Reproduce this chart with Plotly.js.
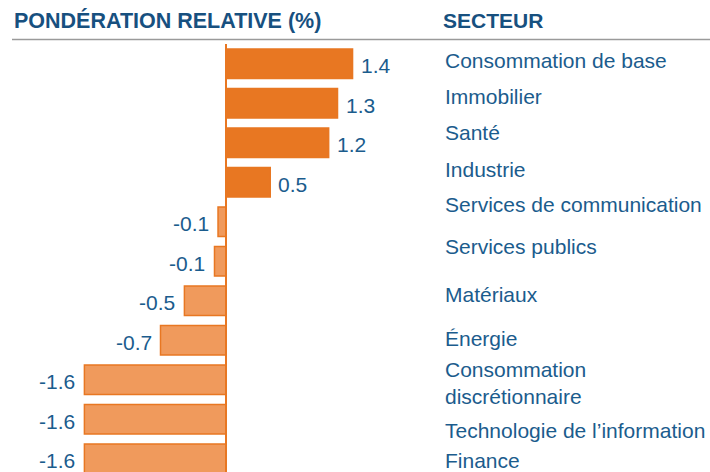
<!DOCTYPE html>
<html>
<head>
<meta charset="utf-8">
<script src="https://cdn.plot.ly/plotly-3.0.1.min.js"></script>
<style>
  html, body { margin: 0; padding: 0; background: #ffffff; }
  #chart { width: 710px; height: 472px; }
</style>
</head>
<body>
<div id="chart"></div>
<script>
// ---- Data ----
const sectors = [
  "Consommation de base",
  "Immobilier",
  "Santé",
  "Industrie",
  "Services de communication",
  "Services publics",
  "Matériaux",
  "Énergie",
  "Consommation<br>discrétionnaire",
  "Technologie de l’information",
  "Finance"
];
const relativeWeight = [1.43, 1.26, 1.16, 0.50, -0.09, -0.13, -0.47, -0.74, -1.60, -1.60, -1.60];
const headerLeft = "PONDÉRATION RELATIVE (%)";
const headerRight = "SECTEUR";

// ---- Styles ----
const ORANGE = "#E87722";
const ORANGE_LIGHT = "#F09A5C";
const BLUE = "#1B5C8D";
const BLUE_DARK = "#17507F";
const FONT = "Liberation Sans, Arial, sans-serif";

const W = 710, H = 472, TOP = 44;
const plotH = H - TOP;

// vertical nudges of the sector labels (px, positive = up), layout only
const labelNudge = [3.5, 7, 10.5, 13, 17.5, 15, 6, 2, -3, -11.5, -1.5];

const trace = {
  type: "bar",
  orientation: "h",
  x: relativeWeight,
  y: sectors,
  marker: {
    color: relativeWeight.map(v => v >= 0 ? ORANGE : ORANGE_LIGHT),
    line: { color: ORANGE, width: 1.5 }
  },
  hoverinfo: "skip"
};

const annotations = [];
// value labels
relativeWeight.forEach((v, i) => {
  annotations.push({
    x: v, y: sectors[i], xref: "x", yref: "y",
    text: v.toFixed(1),
    showarrow: false,
    xanchor: v >= 0 ? "left" : "right",
    yanchor: "middle",
    xshift: v >= 0 ? 6 : -7,
    yshift: -2,
    font: { family: FONT, size: 21, color: BLUE }
  });
});
// sector labels
sectors.forEach((s, i) => {
  annotations.push({
    x: 443 / W, y: s, xref: "paper", yref: "y",
    text: s,
    align: "left",
    showarrow: false,
    xanchor: "left",
    yanchor: "middle",
    yshift: labelNudge[i],
    font: { family: FONT, size: 21, color: BLUE }
  });
});
// headers
annotations.push({
  x: 12 / W, y: 1 + (TOP - 21) / plotH, xref: "paper", yref: "paper",
  text: "<b>" + headerLeft + "</b>", showarrow: false,
  xanchor: "left", yanchor: "middle",
  font: { family: FONT, size: 21.5, color: BLUE_DARK }
});
annotations.push({
  x: 441 / W, y: 1 + (TOP - 21) / plotH, xref: "paper", yref: "paper",
  text: "<b>" + headerRight + "</b>", showarrow: false,
  xanchor: "left", yanchor: "middle",
  font: { family: FONT, size: 21, color: BLUE_DARK }
});

const pxPerUnit = 88.5, zeroPx = 226;
const layout = {
  width: W, height: H,
  margin: { l: 0, r: 0, t: TOP, b: 0, pad: 0 },
  paper_bgcolor: "#ffffff",
  plot_bgcolor: "#ffffff",
  showlegend: false,
  hovermode: false,
  bargap: 0.25,
  xaxis: {
    range: [-zeroPx / pxPerUnit, (W - zeroPx) / pxPerUnit],
    showgrid: false, zeroline: false, showticklabels: false, ticks: "", showline: false,
    fixedrange: true
  },
  yaxis: {
    type: "category",
    categoryorder: "array", categoryarray: sectors,
    range: [-0.5 + plotH / 39.5, -0.5],
    showgrid: false, zeroline: false, showticklabels: false, ticks: "", showline: false,
    fixedrange: true
  },
  shapes: [
    { type: "line", xref: "x", yref: "paper", x0: 0, x1: 0, y0: -0.02, y1: 1,
      line: { color: ORANGE, width: 2 }, layer: "above" },
    { type: "line", xref: "paper", yref: "paper", x0: 12 / W, x1: 1,
      y0: 1 + (TOP - 39.5) / plotH, y1: 1 + (TOP - 39.5) / plotH,
      line: { color: "#9A9A9A", width: 1.5 } }
  ],
  annotations: annotations
};

Plotly.newPlot("chart", [trace], layout, { staticPlot: true, displayModeBar: false });
</script>
</body>
</html>
